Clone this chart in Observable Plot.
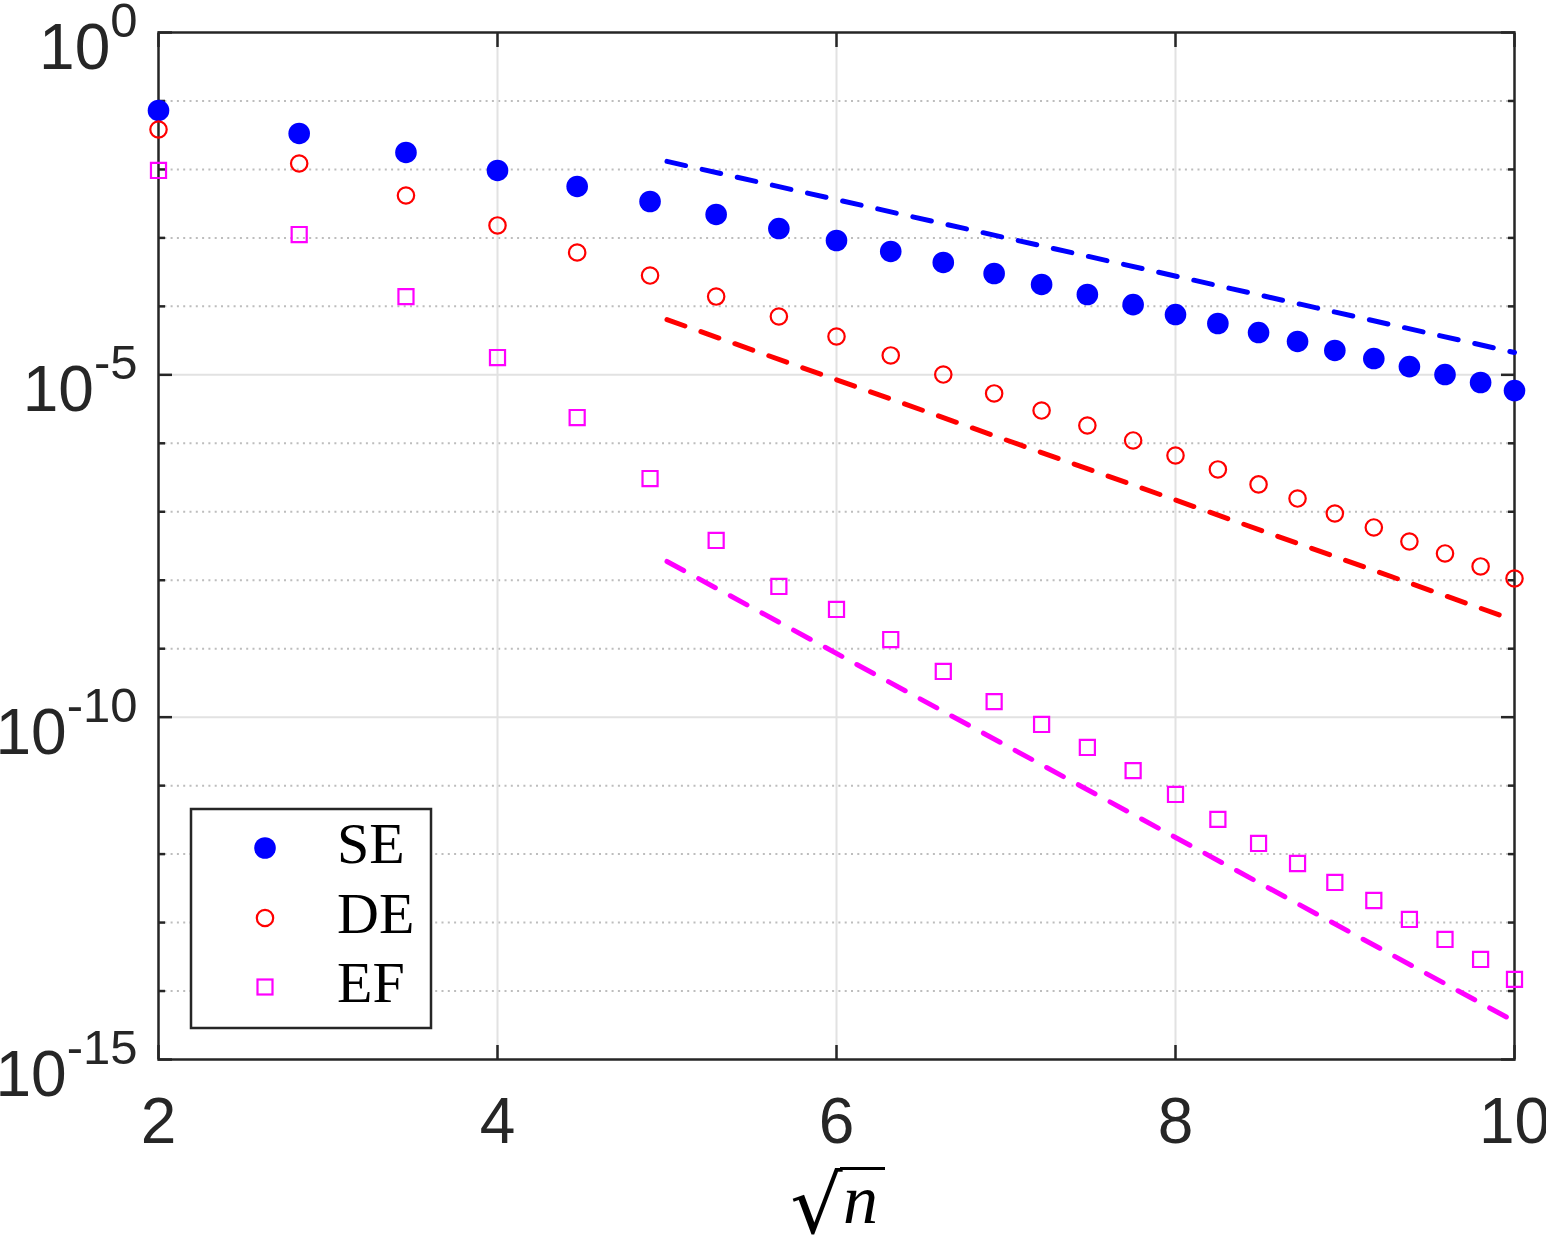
<!DOCTYPE html>
<html>
<head>
<meta charset="utf-8">
<script src="https://cdn.jsdelivr.net/npm/d3@7"></script>
<script src="https://cdn.jsdelivr.net/npm/@observablehq/plot@0.6"></script>
<style>
  html, body { margin: 0; padding: 0; background: #fff; }
  #chart svg { display: block; }
</style>
</head>
<body>
<div id="chart"></div>
<script>
// Abscissa: sqrt(n) for n = 4, 8, ..., 100
const sqrtN = [2, 2.83, 3.46, 4, 4.47, 4.90, 5.29, 5.66, 6, 6.32, 6.63, 6.93, 7.21,
               7.48, 7.75, 8, 8.25, 8.49, 8.72, 8.94, 9.17, 9.38, 9.59, 9.80, 10];

// Errors of the three methods
const errSE = [7.26e-2, 3.35e-2, 1.77e-2, 9.66e-3, 5.64e-3, 3.40e-3, 2.20e-3, 1.37e-3,
               9.16e-4, 6.34e-4, 4.38e-4, 3.02e-4, 2.09e-4, 1.49e-4, 1.06e-4, 7.60e-5,
               5.62e-5, 4.15e-5, 3.07e-5, 2.27e-5, 1.73e-5, 1.32e-5, 1.01e-5, 7.73e-6, 5.90e-6];
const errDE = [3.83e-2, 1.22e-2, 4.16e-3, 1.52e-3, 6.12e-4, 2.82e-4, 1.39e-4, 7.11e-5,
               3.63e-5, 1.92e-5, 1.01e-5, 5.35e-6, 3.01e-6, 1.82e-6, 1.10e-6, 6.64e-7,
               4.15e-7, 2.51e-7, 1.56e-7, 9.44e-8, 5.90e-8, 3.68e-8, 2.46e-8, 1.59e-8, 1.06e-8];
const errEF = [9.66e-3, 1.12e-3, 1.39e-4, 1.79e-5, 2.38e-6, 3.06e-7, 3.81e-8, 8.11e-9,
               3.74e-9, 1.36e-9, 4.65e-10, 1.69e-10, 7.82e-11, 3.61e-11, 1.66e-11, 7.43e-12,
               3.21e-12, 1.43e-12, 7.29e-13, 3.85e-13, 2.10e-13, 1.11e-13, 5.66e-14, 2.89e-14, 1.48e-14];

// Reference rates (dashed), drawn over 5 <= sqrt(n) <= 10
const refX  = [5, 10];
const refSE = [1.31e-2, 2.12e-5];
const refDE = [6.4e-5, 2.6e-9];
const refEF = [1.88e-8, 3.6e-15];

const seriesNames  = ["SE", "DE", "EF"];
const seriesColors = ["#0000ff", "#ff0000", "#ff00ff"];

const xTicks     = [2, 4, 6, 8, 10];
const xGrid      = [4, 6, 8];
const yMajorExp  = [0, -5, -10, -15];
const yMinorExp  = [-1, -2, -3, -4, -6, -7, -8, -9, -11, -12, -13, -14];
const yGridExp   = [-5, -10];

const pow10 = e => Math.pow(10, e);
const rows = (xs, ys) => xs.map((x, i) => ({x, y: ys[i]}));

const W = 1546, H = 1236;
const M = {left: 158, right: 32, top: 32, bottom: 177};
const ink = "#262626";
const tickStyle = {fill: "none", stroke: ink, strokeWidth: 2.5, label: null};
const dashStyle = {x: "x", y: "y", strokeWidth: 5, strokeDasharray: "19,17"};

const chart = Plot.plot({
  width: W,
  height: H,
  marginLeft: M.left,
  marginRight: M.right,
  marginTop: M.top,
  marginBottom: M.bottom,
  style: {background: "#fff", fontFamily: "'Liberation Sans', Arial, Helvetica, sans-serif", color: ink},
  x: {domain: [2, 10], axis: null},
  y: {type: "log", domain: [1e-15, 1], axis: null},
  marks: [
    // grid
    Plot.ruleY(yMinorExp.map(pow10), {stroke: "#bdbdbd", strokeWidth: 2, strokeDasharray: "2,4.3"}),
    Plot.ruleY(yGridExp.map(pow10), {stroke: "#e2e2e2", strokeWidth: 2}),
    Plot.ruleX(xGrid, {stroke: "#e2e2e2", strokeWidth: 2}),
    Plot.frame({stroke: ink, strokeWidth: 2.5}),
    // inward ticks on all four sides
    Plot.axisX(xTicks, {anchor: "bottom", tickSize: -14, ...tickStyle}),
    Plot.axisX(xTicks, {anchor: "top", tickSize: -14, ...tickStyle}),
    Plot.axisY(yMajorExp.map(pow10), {anchor: "left", tickSize: -14, ...tickStyle}),
    Plot.axisY(yMajorExp.map(pow10), {anchor: "right", tickSize: -14, ...tickStyle}),
    Plot.axisY(yMinorExp.map(pow10), {anchor: "left", tickSize: -7, ...tickStyle}),
    Plot.axisY(yMinorExp.map(pow10), {anchor: "right", tickSize: -7, ...tickStyle}),
    // tick labels
    Plot.axisX(xTicks, {anchor: "bottom", tickSize: 0, tickPadding: 38, fontSize: 64, fill: ink,
      label: null, tickFormat: d => String(d)}),
    Plot.axisY(yMajorExp.map(pow10), {anchor: "left", tickSize: 0, tickPadding: 21, fontSize: 64, fill: ink,
      dy: 16, label: null, tickFormat: d => "10^" + Math.round(Math.log10(d))}),
    // dashed reference rates
    Plot.line(rows(refX, refSE), {...dashStyle, stroke: seriesColors[0]}),
    Plot.line(rows(refX, refDE), {...dashStyle, stroke: seriesColors[1]}),
    Plot.line(rows(refX, refEF), {...dashStyle, stroke: seriesColors[2]}),
    // errors
    Plot.dot(rows(sqrtN, errSE), {x: "x", y: "y", r: 10.8, fill: seriesColors[0], stroke: "none"}),
    Plot.dot(rows(sqrtN, errDE), {x: "x", y: "y", r: 8.2, fill: "none", stroke: seriesColors[1], strokeWidth: 2.2}),
    Plot.dot(rows(sqrtN, errEF), {x: "x", y: "y", r: 8.5, symbol: "square", fill: "none", stroke: seriesColors[2], strokeWidth: 2.2})
  ]
});

document.getElementById("chart").appendChild(chart);
const svg = d3.select(chart);

// Power-of-ten labels with raised exponents
svg.selectAll('g[aria-label="y-axis tick label"] text').each(function () {
  const [base, exp] = this.textContent.split("^");
  const t = d3.select(this).text(null);
  t.append("tspan").text(base);
  t.append("tspan").attr("font-size", 49).attr("dy", -32).text(exp);
});

const frameL = M.left, frameR = W - M.right, frameB = H - M.bottom;

// Ink extents of a glyph run, used to fit the radical sign
const measureCtx = document.createElement("canvas").getContext("2d");
function inkBox(text, font) {
  measureCtx.font = font;
  const m = measureCtx.measureText(text);
  return {left: m.actualBoundingBoxLeft, right: m.actualBoundingBoxRight,
          ascent: m.actualBoundingBoxAscent, descent: m.actualBoundingBoxDescent};
}

// x-axis label: square root of n
const cx = (frameL + frameR) / 2;
const lab = svg.append("g").attr("fill", "#000").attr("text-anchor", "start");
{
  const font = "'DejaVu Serif', serif";
  const b = inkBox("\u221A", `100px ${font}`);
  const target = {x0: cx - 44, x1: cx + 7, y0: H - 69, y1: H - 1};
  const sx = (target.x1 - target.x0) / (b.left + b.right);
  const sy = (target.y1 - target.y0) / (b.ascent + b.descent);
  lab.append("text")
    .attr("transform", `translate(${target.x0 + b.left * sx},${target.y0 + b.ascent * sy}) scale(${sx},${sy})`)
    .attr("font-family", font)
    .attr("font-size", 100)
    .text("\u221A");
  lab.append("line")
    .attr("x1", target.x1 - 3).attr("x2", cx + 49)
    .attr("y1", target.y0 + 1.5).attr("y2", target.y0 + 1.5)
    .attr("stroke", "#000").attr("stroke-width", 3);
  const nFont = "'Liberation Serif', 'Times New Roman', serif";
  const nb = inkBox("n", `italic 70px ${nFont}`);
  lab.append("text")
    .attr("x", cx + 9 + nb.left).attr("y", H - 13)
    .attr("font-family", nFont)
    .attr("font-style", "italic")
    .attr("font-size", 70)
    .text("n");
}

// Legend box in the lower-left corner of the axes
const box = {x: frameL + 33, y: frameB - 31 - 219, w: 240, h: 219};
const leg = svg.append("g").attr("text-anchor", "start");
leg.append("rect")
  .attr("x", box.x).attr("y", box.y).attr("width", box.w).attr("height", box.h)
  .attr("fill", "#fff").attr("stroke", ink).attr("stroke-width", 2.5);
const rowY = [39, 109, 178];
seriesNames.forEach((name, i) => {
  const my = box.y + rowY[i], mx = box.x + 74;
  if (i === 0) {
    leg.append("circle").attr("cx", mx).attr("cy", my).attr("r", 10.8).attr("fill", seriesColors[0]);
  } else if (i === 1) {
    leg.append("circle").attr("cx", mx).attr("cy", my).attr("r", 8.2)
      .attr("fill", "none").attr("stroke", seriesColors[1]).attr("stroke-width", 2.2);
  } else {
    const s = 15;
    leg.append("rect").attr("x", mx - s / 2).attr("y", my - s / 2).attr("width", s).attr("height", s)
      .attr("fill", "none").attr("stroke", seriesColors[2]).attr("stroke-width", 2.2);
  }
  leg.append("text")
    .attr("x", box.x + 146).attr("y", my + 15)
    .attr("font-family", "'Liberation Serif', 'Times New Roman', serif")
    .attr("font-size", 58)
    .attr("fill", "#000")
    .text(name);
});
</script>
</body>
</html>
